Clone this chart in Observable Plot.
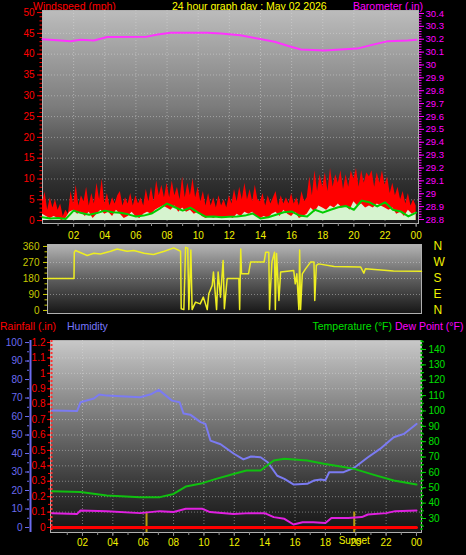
<!DOCTYPE html>
<html><head><meta charset="utf-8">
<script src="https://cdn.jsdelivr.net/npm/d3@7"></script>
<script src="https://cdn.jsdelivr.net/npm/@observablehq/plot@0.6"></script>
<style>
html,body{margin:0;padding:0;background:#000;}
#page{position:relative;width:466px;height:555px;background:#000;overflow:hidden;font-family:"Liberation Sans",Arial,sans-serif;}
.t{position:absolute;font-size:10.5px;white-space:nowrap;line-height:12px;}
</style></head><body>
<div id="page">
<div class="t" style="left:33px;top:0px;color:#ff0000">Windspeed (mph)</div>
<div class="t" style="left:172px;top:0px;color:#ffff00">24 hour graph day : May 02 2026</div>
<div class="t" style="right:43px;top:0px;color:#ff00ff">Barometer (.in)</div>
<div class="t" style="left:0px;top:320px;color:#ff0000">Rainfall (.in)</div>
<div class="t" style="left:67px;top:320px;color:#7878ff">Humidity</div>
<div class="t" style="right:74px;top:320px;color:#00e000">Temperature (°F)</div>
<div class="t" style="left:395px;top:320px;color:#ff00ff">Dew Point (°F)</div>
</div>
<script>
// ---------- data ----------
const hourTicks = [2,4,6,8,10,12,14,16,18,20,22,24];
const hourLabels = ["02","04","06","08","10","12","14","16","18","20","22","00"];

// wind gust (mph), every 10 minutes from 00:00 to 24:00
const gustMph = [
  4.5,6.8,2.5,5.5,3,5,  2.5,4,1,2.5,1.5,7,  4,8.5,3.5,6,4.5,8,  3.5,6.5,4,9,5,10,
  4,6.5,3.5,5.5,4,6,  7,3.5,5.5,4,6.5,3.5,  6,4,5.5,3.5,7.5,4.5,  8,4.5,9.5,6,8.5,5.5,
  9,5.5,9.5,6,8,5,  10.5,5.5,9,6,10,5.5,  8,4.5,7,3.5,6.5,3.5,  5.5,3,6,3.5,5,3,
  6,4,7.5,4.5,8,5,  9,5,7.5,4.5,8.5,5,  4.5,6.5,3.5,6,4,5.5,  7,3.5,6,4,5.5,4,
  6.5,4,5.5,3.5,7,4.5,  5.5,10.5,6,12,7,11,  8,11.5,7,12.5,8,11,  9,12,7.5,11,8,12,
  10,12.5,8,12,9,11.5,  10.5,12,8,11.5,9,12,  8.5,10.5,6.5,9,6,8,  5,7,4,6.5,3.5,5,  3.5];
// wind speed (mph), every 15 minutes
const windMph = [1.5,1,0.5,1, 0.5,0,0.5,2, 2.5,1.5,2,1, 2,0.5,1.5,2.5, 1.5,2,1,2.5, 1.5,0.5,1,2,
  1,0.5,1.5,2, 1.5,2.5,3,3.5, 3,2.5,3.5,2, 3,2,2.5,1.5, 2,1,0.5,1, 0.5,1,0.5,0.5,
  1,0.5,1.5,1, 2,1.5,2,1, 0.5,1,0.5,1.5, 2,1,2.5,1.5, 1,2,0.5,1, 1.5,3,2,3.5,
  3,2.5,3.5,3, 4,3,3.5,2.5, 4.5,3.5,4,3, 3.5,3,4,3.5, 3,2.5,3,1.5, 2,1,2.5,1.5, 2];
// average wind (mph), every 30 minutes
const avgMph = [0.8,0.5,0.6,0.4,2.4,1.8,1.4,1.8,2.4,2.0,1.9,1.5,1.0,1.2,1.7,2.8,4.1,3.2,2.4,3.1,
  1.9,0.9,1.0,0.8,0.9,1.0,1.2,1.7,0.5,0.8,1.4,2.0,2.2,1.2,1.0,2.6,1.9,2.6,3.2,3.5,
  2.6,4.8,4.4,3.4,4.4,2.6,2.2,1.0,1.9];

const baroHours = [0,1.16,1.8,2.44,3.3,4.16,6.7,7.4,8.23,10.6,11.45,12.7,13.8,14.9,15.9,16.6,18.1,20.2,21.3,22.2,23.45,24];
const baroInHg  = [30.20,30.19,30.185,30.195,30.19,30.217,30.22,30.237,30.25,30.25,30.245,30.23,30.205,30.18,30.144,30.12,30.113,30.127,30.16,30.185,30.19,30.195];

const dirHours = [0,1.7,1.72,1.8,2.55,2.97,3.4,4.05,4.47,5.1,5.54,6.2,6.8,7.5,8.1,8.54,8.58,8.75,8.86,9.0,9.07,9.2,9.28,9.5,9.8,10.0,10.25,10.35,10.57,10.65,10.85,10.95,11.1,11.27,11.35,11.53,12.28,12.33,12.4,12.45,12.9,13.03,13.9,14.0,14.2,14.25,14.3,14.4,14.57,14.62,14.7,14.85,14.96,15.8,15.9,16.0,16.13,16.18,16.24,16.35,16.56,16.88,17.1,17.15,17.25,17.4,18.4,20.1,20.3,20.4,21.2,22.2,24];
const dirDeg   = [180,180,328,337,309,322,318,333,346,333,337,322,315,333,352,333,10,5,355,350,5,340,5,47,37,75,5,94,141,216,5,216,75,281,10,180,180,5,346,206,206,272,272,328,328,5,105,272,328,5,320,56,216,225,150,206,5,340,5,206,234,272,272,56,253,262,247,244,210,234,229,222,220];
const dirTicks = [0,90,180,270,360];
const compass  = ["N","E","S","W","N"];

const humHours = [0,1.65,1.87,2.75,3.1,3.6,5.8,6.5,7.03,7.9,8.4,8.66,9.1,9.78,10.1,10.43,11.1,11.95,12.6,13.1,13.73,14.2,14.83,15.3,15.92,16.8,17.24,17.7,18,18.25,19.2,19.9,20.76,21.6,22.5,23.17,24];
const humPct   = [63.2,63,67.7,69.7,71.9,71.3,70.4,72,74.4,68.6,67.7,61.6,61,57,56,47,45,40,36.8,38.4,38,35.3,28,26.3,23.2,23.6,25.4,26,25.6,29.9,29.9,32.3,37.7,42.5,48.8,50.6,56];
const tempHours = [0,1.87,3.6,5.8,7.1,8,8.8,9.9,10.8,11.95,12.8,13.73,14.6,15.3,16.8,17.9,19,19.9,21.2,22.5,24];
const tempF     = [47.8,47.3,45,43.9,43.9,46,50.8,53,55.8,59,61.2,61.2,67.8,68.9,67.8,65.6,63.8,62.3,58.4,54.7,52.1];
const dewHours = [0,1.65,1.87,3.6,5.8,7.1,8,8.8,9.9,10.4,11.95,13,14,14.6,15.3,15.9,16.5,17.2,18,18.4,19.5,20.4,20.8,22,22.6,24];
const dewF     = [33.5,33,35.2,34.8,33.5,34.8,34.2,36.3,36.3,34.2,33,33.5,33.5,30.9,29.8,26.1,27.6,27.6,27,30.4,30.4,30.9,32.6,33.5,34.8,35.2];
const rainHours = [0,24];
const rainIn    = [0,0];
const sunHours  = [6.22,19.9];
const sunMarkTop = 0.1;
const sunLabel  = "Sunset";

// ---------- drawing ----------
const W = 466, H = 555;
const page = document.getElementById("page");
const FONT = "Liberation Sans, Arial, sans-serif";
const base = {width: W, height: H, style: {background: "transparent", fontFamily: FONT, fontSize: "10px", overflow: "visible", position: "absolute", left: "0px", top: "0px"}};
function add(svg) { svg.style.position = "absolute"; svg.style.left = "0px"; svg.style.top = "0px"; page.appendChild(svg); return svg; }
function grad(svg, id, stops) {
  const d = d3.select(svg).insert("defs", ":first-child");
  const g = d.append("linearGradient").attr("id", id).attr("x1", 0).attr("y1", 0).attr("x2", 0).attr("y2", 1);
  stops.forEach(([o, c]) => g.append("stop").attr("offset", o).attr("stop-color", c));
}
const hourFmt = d => hourLabels[hourTicks.indexOf(d)];
const blank = () => "";
const dec1 = d => String(+d.toFixed(1));
const gridStyle = {stroke: "#e0e0e0", strokeOpacity: 0.45, strokeDasharray: "1,2"};
const pairs = (xs, ys) => xs.map((x, i) => [x, ys[i]]);

// ===== top panel: wind =====
const topM = {marginTop: 10, marginBottom: H - 223, marginLeft: 42, marginRight: W - 418};
const topXDomain = [0, 24.15];
const s1 = Plot.plot({...base, ...topM,
  x: {domain: topXDomain, label: null},
  y: {domain: [-0.7, 50.5], label: null},
  marks: [
    Plot.frame({fill: "url(#gTop)", stroke: "#b0b0b0"}),
    Plot.gridX(hourTicks.slice(0, -1), gridStyle),
    Plot.gridY(d3.range(5, 50, 5), gridStyle),
    Plot.areaY(gustMph, {x: (d, i) => i / 6, y: d => d, fill: "#ff0000"}),
    Plot.areaY(windMph, {x: (d, i) => i / 4, y: d => d, fill: "#d6f3cf"}),
    Plot.lineY(avgMph, {x: (d, i) => i / 2, y: d => d, stroke: "#00cc00", strokeWidth: 2}),
    Plot.axisY(d3.range(0, 51, 1), {tickSize: 2.5, tickFormat: blank, stroke: "#ff0000", label: null}),
    Plot.axisY(d3.range(0, 51, 5), {tickSize: 5, tickPadding: 3, stroke: "#ff0000", fill: "#ff0000", label: null}),
    Plot.axisX(d3.range(1, 25, 1), {tickSize: 3, tickFormat: blank, stroke: "#909090", label: null}),
    Plot.axisX(hourTicks, {tickSize: 4, tickPadding: 4, tickFormat: hourFmt, stroke: "#909090", fill: "#f0f000", label: null})
  ]});
grad(s1, "gTop", [[0, "#bcbcbc"], [0.45, "#7c7c7c"], [0.8, "#303030"], [1, "#161616"]]);
add(s1);

const s2 = Plot.plot({...base, ...topM,
  x: {domain: topXDomain, axis: null},
  y: {domain: [28.769, 30.423], label: null},
  marks: [
    Plot.line(pairs(baroHours, baroInHg), {stroke: "#ff33ff", strokeWidth: 2}),
    Plot.axisY(d3.range(1440, 1521).map(v => v / 50), {anchor: "right", tickSize: 2.5, tickFormat: blank, stroke: "#ff00ff", label: null}),
    Plot.axisY(d3.range(288, 305).map(v => v / 10), {anchor: "right", tickSize: 5, tickPadding: 2, tickFormat: dec1, stroke: "#ff00ff", fill: "#ff00ff", fontSize: 9.5, label: null})
  ]});
add(s2);

// ===== middle panel: wind direction =====
const midM = {marginTop: 244, marginBottom: H - 313, marginLeft: 47, marginRight: W - 421};
const s3 = Plot.plot({...base, ...midM,
  x: {domain: [0, 24], axis: null},
  y: {domain: [-17, 371], label: null},
  marks: [
    Plot.frame({fill: "url(#gMid)", stroke: "#b0b0b0"}),
    Plot.gridY([90, 180, 270], gridStyle),
    Plot.line(pairs(dirHours, dirDeg), {stroke: "#eeee22", strokeWidth: 1.5}),
    Plot.axisY(d3.range(0, 361, 30), {tickSize: 2.5, tickFormat: blank, stroke: "#c8c800", label: null}),
    Plot.axisY(dirTicks, {tickSize: 4, tickPadding: 4, stroke: "#c8c800", fill: "#c8c800", label: null}),
    Plot.axisY(dirTicks, {anchor: "right", tickSize: 0, tickPadding: 12, fill: "#f0f000", fontSize: 12, tickFormat: d => compass[dirTicks.indexOf(d)], label: null})
  ]});
grad(s3, "gMid", [[0, "#b4b4b4"], [0.5, "#5e5e5e"], [1, "#161616"]]);
add(s3);

// ===== bottom panel =====
const botM = {marginTop: 340, marginBottom: H - 532, marginLeft: 50, marginRight: W - 421};
const botXDomain = [-0.105, 24.33];
const rainDomain = [-0.0324, 1.213];
const s4 = Plot.plot({...base, ...botM,
  x: {domain: botXDomain, label: null},
  y: {domain: rainDomain, label: null},
  marks: [
    Plot.frame({fill: "url(#gBot)", stroke: "#b0b0b0"}),
    Plot.gridX(hourTicks.slice(0, -1), gridStyle),
    Plot.gridY(d3.range(1, 12).map(v => v / 10), gridStyle),
    Plot.ruleX([botXDomain[0]], {stroke: "#ff3030", strokeWidth: 2, strokeDasharray: "2,2", dx: 1}),
    Plot.ruleX(sunHours, {y1: rainDomain[0], y2: sunMarkTop, stroke: "#b89c10", strokeWidth: 2}),
    Plot.line(pairs(rainHours, rainIn), {stroke: "#ff0000", strokeWidth: 3}),
    Plot.axisY(d3.range(0, 25).map(v => v / 20), {tickSize: 2, tickFormat: blank, stroke: "#ff0000", label: null}),
    Plot.axisY(d3.range(0, 13).map(v => v / 10), {tickSize: 3, tickPadding: 2, tickFormat: dec1, stroke: "#ff0000", fill: "#ff0000", label: null}),
    Plot.axisX(d3.range(1, 25, 1), {tickSize: 3, tickFormat: blank, stroke: "#909090", label: null}),
    Plot.axisX(hourTicks, {tickSize: 4, tickPadding: 2, tickFormat: hourFmt, stroke: "#909090", fill: "#f0f000", label: null}),
    Plot.text([sunLabel], {x: [sunHours[1]], frameAnchor: "bottom", dy: 11, fill: "#f0f000", fontSize: 10})
  ]});
grad(s4, "gBot", [[0, "#c8c8c8"], [0.4, "#7a7a7a"], [0.75, "#383838"], [1, "#141414"]]);
add(s4);

const s5 = Plot.plot({...base, ...botM,
  x: {domain: botXDomain, axis: null},
  y: {domain: [-2.7, 101.1], label: null},
  marks: [
    Plot.line(pairs(humHours, humPct), {stroke: "#7b7bf2", strokeWidth: 2}),
    Plot.ruleX([botXDomain[0]], {dx: -20, stroke: "#6b6bf0", strokeWidth: 2}),
    Plot.axisY(d3.range(0, 101, 5), {dx: -21, tickSize: 2, tickFormat: blank, stroke: "#6b6bf0", label: null}),
    Plot.axisY(d3.range(0, 101, 10), {dx: -21, tickSize: 4, tickPadding: 3, stroke: "#6b6bf0", fill: "#6b6bf0", label: null})
  ]});
add(s5);

const s6 = Plot.plot({...base, ...botM,
  x: {domain: botXDomain, axis: null},
  y: {domain: [20.89, 145.86], label: null},
  marks: [
    Plot.ruleX([botXDomain[1]], {stroke: "#00c000", strokeWidth: 2, strokeDasharray: "2,2"}),
    Plot.line(pairs(tempHours, tempF), {stroke: "#10c010", strokeWidth: 2}),
    Plot.line(pairs(dewHours, dewF), {stroke: "#e020e0", strokeWidth: 2}),
    Plot.axisY(d3.range(25, 146, 5), {anchor: "right", tickSize: 2, tickFormat: blank, stroke: "#00d000", label: null}),
    Plot.axisY(d3.range(30, 141, 10), {anchor: "right", tickSize: 4, tickPadding: 3, stroke: "#00d000", fill: "#00e000", label: null})
  ]});
add(s6);
</script>
</body></html>
